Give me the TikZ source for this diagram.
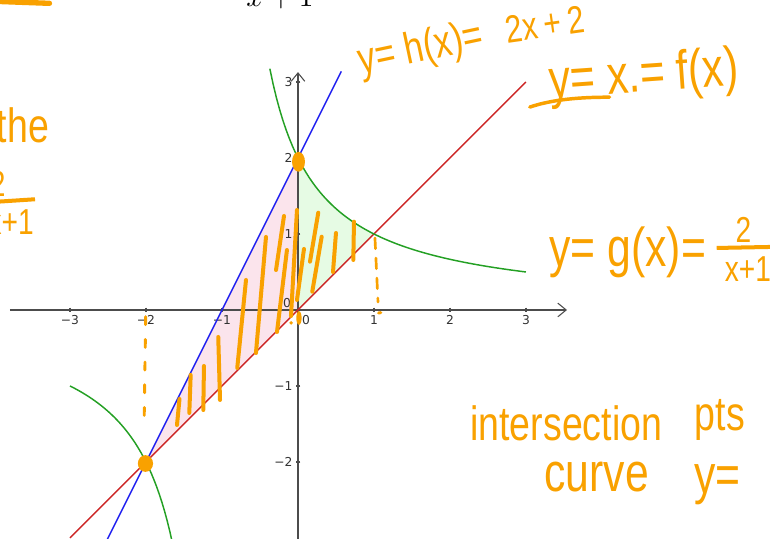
\documentclass[tikz,border=0pt]{standalone}
\usepackage{fontspec}
\usepackage{amsmath}
\usepackage{xcolor}
\usepackage{tikz}
\usetikzlibrary{arrows.meta}
\newfontfamily\hand[FakeStretch=0.78]{Liberation Sans}
\newfontfamily\ggfont{DejaVu Sans}
\definecolor{pen}{HTML}{F9A100}
\definecolor{hblue}{HTML}{2020F0}
\definecolor{fred}{HTML}{CC2424}
\definecolor{ggreen}{HTML}{24A024}
\definecolor{pinkfill}{HTML}{FBE4EC}
\definecolor{mintfill}{HTML}{E6FBE4}
\newcommand{\hs}[4]{\draw[pen,line width=1.5pt,line cap=round] (#1,#2)--(#3,#4);}

\begin{document}
\begin{tikzpicture}[x=1cm,y=1cm,
  hw/.style={pen,font=\hand\fontsize{18}{20}\selectfont,inner sep=0pt},
  big/.style={font=\hand\fontsize{20.5}{22}\selectfont},
  frac/.style={font=\hand\fontsize{13.5}{15}\selectfont},
  tl/.style={font=\ggfont\fontsize{4.6}{5}\selectfont,text=black!80,inner sep=1pt}]
\useasboundingbox (-3.921,-3.013) rectangle (6.211,4.079);
\clip (-3.921,-3.013) rectangle (6.211,4.079);
% shaded areas
\fill[pinkfill] (-2,-2)--(0,2)--(0,0)--cycle;
\fill[mintfill,domain=0:1,samples=30] (0,0)--plot({\x},{2/(\x+1)})--cycle;
\draw[ggreen,line width=0.5pt] (0,0)--(0,2);
% axes
\draw[black!70,line width=0.4pt,-{Straight Barb[length=1.1mm,width=1.8mm]}] (-3.79,0)--(3.54,0);
\draw[black!70,line width=0.4pt,-{Straight Barb[length=1.1mm,width=1.8mm]}] (0,-3.1)--(0,3.13);
\foreach \i/\t in {-3/−3,-2/−2,-1/−1,1/1,2/2,3/3} {\draw[black!70,line width=0.4pt] (\i,0.03)--(\i,-0.03) node[below,tl] (xt\i) {\t};}
\foreach \i/\t in {-2/−2,-1/−1,1/1,2/2,3/3} {\draw[black!70,line width=0.4pt] (0.03,\i)--(-0.03,\i) node[left,tl] (yt\i) {\t};}
\node[tl] (o1) at (-0.145,0.092) {0}; \node[tl] (o2) at (0.105,-0.13) {0};
% curves
\draw[hblue,line width=0.55pt] (-2.51,-3.02)--(0.57,3.14);
\draw[fred,line width=0.55pt] (-3,-3)--(3,3);
\draw[ggreen,line width=0.55pt,domain=-0.37:3,samples=80] plot ({\x},{2/(\x+1)});
\draw[ggreen,line width=0.55pt,domain=-3:-1.65,samples=40] plot ({\x},{2/(\x+1)});
% pen marks on the graph
\fill[pen] (0.007,1.95) ellipse (0.085 and 0.13);
\fill[pen] (-2.007,-2.02) ellipse (0.1 and 0.11);
\fill[pen] (0.013,-0.105) ellipse (0.035 and 0.09); \fill[pen] (-0.09,-0.17) circle (0.025);
\draw[pen,line width=1.1pt,line cap=round,dash pattern=on 3pt off 5.5pt] (-2.004,-0.088)--(-2.026,-1.58);
\draw[pen,line width=1pt,line cap=round,dash pattern=on 4pt off 3.5pt] (1.013,0.947)--(1.053,0.105);
\draw[pen,line width=1.1pt,line cap=round] (1.06,-0.04)--(1.09,-0.035);
\hs{-1.559}{-1.171}{-1.592}{-1.513} \hs{-1.412}{-0.855}{-1.430}{-1.355}
\hs{-1.237}{-0.737}{-1.246}{-1.316} \hs{-1.049}{-0.355}{-1.026}{-1.184}
\hs{-0.684}{0.395}{-0.799}{-0.763} \hs{-0.421}{0.961}{-0.553}{-0.566}
\hs{-0.184}{1.237}{-0.289}{0.526} \hs{-0.145}{0.789}{-0.276}{-0.289}
\hs{-0.013}{1.316}{-0.092}{-0.079} \hs{0.079}{0.803}{-0.013}{0.132}
\hs{0.267}{1.280}{0.158}{0.636} \hs{0.312}{0.964}{0.188}{0.241}
\hs{0.5}{1.013}{0.461}{0.5} \hs{0.737}{1.162}{0.728}{0.658}
% handwriting
\node[anchor=base,font=\fontsize{10.5}{12}\selectfont] (topden) at (-0.237,3.99) {$x+1$};
\draw[pen,line width=2pt,line cap=round] (-3.95,4.06)--(-3.27,4.035);
\node[hw] (thelab) at (-3.62,2.43) {the};
\node[hw,frac] (lnum) at (-3.95,1.66) {2}; \node[hw,frac] (lden) at (-3.78,1.15) {x+1};
\draw[pen,line width=1.5pt] (-3.95,1.425)--(-3.46,1.457);
\node[hw,rotate=12,font=\hand\fontsize{16.5}{18}\selectfont] (hlab) at (1.62,3.42) {y= h(x)=};
\node[hw,rotate=8,font=\hand\fontsize{14.5}{16}\selectfont] (hval) at (3.25,3.76) {2x\,+\,2};
\node[hw,big,rotate=4] (flab) at (4.55,3.06) {y= x.= f(x)};
\draw[pen,line width=1.3pt,line cap=round] (3.05,2.67) .. controls (3.35,2.77) and (3.7,2.80) .. (4.1,2.80);
\node[hw,big] (glab) at (4.34,0.76) {y= g(x)=};
\node[hw,frac] (gnum) at (5.86,1.06) {2}; \node[hw,frac] (gden) at (5.92,0.54) {x+1};
\draw[pen,line width=1.5pt] (5.51,0.816)--(6.25,0.83);
\node[hw] (ilab) at (3.53,-1.49) {intersection}; \node[hw] (plab) at (5.55,-1.45) {pts};
\node[hw,big] (clab) at (3.93,-2.20) {curve}; \node[hw,big] (ylab) at (5.52,-2.30) {y=};
\end{tikzpicture}
\end{document}
